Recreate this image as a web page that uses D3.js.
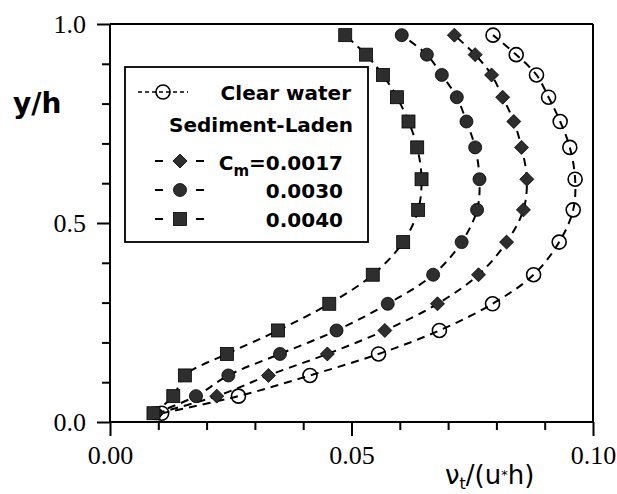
<!DOCTYPE html>
<html>
<head>
<meta charset="utf-8">
<script src="https://cdn.jsdelivr.net/npm/d3@7"></script>
<style>
  body { margin: 0; background: #fff; }
  svg { display: block; }
  .num { font-family: "Liberation Serif", "DejaVu Serif", serif; font-size: 26px; }
</style>
</head>
<body>
<svg id="chart" width="617" height="494"></svg>
<script>
// eddy viscosity profiles, clear water vs sediment-laden

var yLevels = [0.022, 0.065, 0.117, 0.171, 0.230, 0.297, 0.370, 0.452, 0.533, 0.610, 0.690, 0.755, 0.816, 0.872, 0.923, 0.972];

var clearWater = [0.0107, 0.0266, 0.0414, 0.0556, 0.0682, 0.0792, 0.0877, 0.0930, 0.0959, 0.0963, 0.0952, 0.0932, 0.0908, 0.0883, 0.0841, 0.0793];
var cm0017 = [0.0097, 0.0221, 0.0328, 0.0450, 0.0569, 0.0678, 0.0763, 0.0821, 0.0856, 0.0863, 0.0852, 0.0836, 0.0813, 0.0790, 0.0756, 0.0713];
var cm0030 = [0.0093, 0.0178, 0.0245, 0.0352, 0.0469, 0.0575, 0.0669, 0.0728, 0.0760, 0.0765, 0.0756, 0.0738, 0.0718, 0.0687, 0.0656, 0.0604];
var cm0040 = [0.0090, 0.0131, 0.0155, 0.0242, 0.0348, 0.0454, 0.0544, 0.0607, 0.0638, 0.0645, 0.0636, 0.0618, 0.0594, 0.0565, 0.0530, 0.0487];

var xMajor = [0, 0.05, 0.10];
var xMinor = [0.01, 0.02, 0.03, 0.04, 0.06, 0.07, 0.08, 0.09];
var yMajor = [0, 0.5, 1.0];
var yMinor = [0.1, 0.2, 0.3, 0.4, 0.6, 0.7, 0.8, 0.9];

var svg = d3.select("#chart");

var x = d3.scaleLinear().domain([0, 0.1]).range([110, 593]);
var y = d3.scaleLinear().domain([0, 1]).range([422, 24]);

var sans = "DejaVu Sans, sans-serif";

// minor ticks
svg.append("g")
  .attr("transform", "translate(0," + y(0) + ")")
  .call(d3.axisBottom(x).tickValues(xMinor).tickSize(8).tickFormat(""))
  .call(g => g.select(".domain").remove());
svg.append("g")
  .attr("transform", "translate(" + x(0) + ",0)")
  .call(d3.axisLeft(y).tickValues(yMinor).tickSize(8).tickFormat(""))
  .call(g => g.select(".domain").remove());

// major ticks + labels
var xAxis = svg.append("g")
  .attr("transform", "translate(0," + y(0) + ")")
  .call(d3.axisBottom(x).tickValues(xMajor).tickSize(14).tickPadding(10).tickFormat(d3.format(".2f")));
xAxis.select(".domain").remove();
xAxis.attr("font-family", null).attr("font-size", null);
xAxis.selectAll("text").attr("class", "num").attr("fill", "#000");

var yAxis = svg.append("g")
  .attr("transform", "translate(" + x(0) + ",0)")
  .call(d3.axisLeft(y).tickValues(yMajor).tickSize(13).tickPadding(11).tickFormat(d3.format(".1f")));
yAxis.select(".domain").remove();
yAxis.attr("font-family", null).attr("font-size", null);
yAxis.selectAll("text").attr("class", "num").attr("fill", "#000");

svg.selectAll(".tick line").attr("stroke", "#000").attr("stroke-width", 2);

// frame
var frame = svg.append("g").attr("stroke", "#000").attr("stroke-width", 2).attr("fill", "none");
frame.append("line").attr("x1", x(0)).attr("x2", x(0)).attr("y1", y(1)).attr("y2", y(0));
frame.append("line").attr("x1", x(0)).attr("x2", x(0.1)).attr("y1", y(0)).attr("y2", y(0));
frame.append("line").attr("x1", x(0)).attr("x2", x(0.1)).attr("y1", y(1)).attr("y2", y(1));
frame.append("line").attr("x1", x(0.1)).attr("x2", x(0.1)).attr("y1", y(1)).attr("y2", y(0));

// series
var series = [
  {name: "clear", values: clearWater, shape: "openCircle"},
  {name: "c17", values: cm0017, shape: "diamond"},
  {name: "c30", values: cm0030, shape: "circle"},
  {name: "c40", values: cm0040, shape: "square"}
];

var line = d3.line()
  .x(d => x(d[0]))
  .y(d => y(d[1]))
  .curve(d3.curveCatmullRom.alpha(0.5));

var markFill = "#2e2e2e";

function drawMark(g, shape, cx, cy) {
  if (shape == "openCircle") {
    g.append("circle").attr("cx", cx).attr("cy", cy).attr("r", 7)
      .attr("fill", "none").attr("stroke", "#000").attr("stroke-width", 1.6);
  } else if (shape == "circle") {
    g.append("circle").attr("cx", cx).attr("cy", cy).attr("r", 6.5)
      .attr("fill", markFill).attr("stroke", "#000").attr("stroke-width", 0.8);
  } else if (shape == "diamond") {
    g.append("path")
      .attr("d", "M" + cx + "," + (cy - 7) + "L" + (cx + 7) + "," + cy + "L" + cx + "," + (cy + 7) + "L" + (cx - 7) + "," + cy + "Z")
      .attr("fill", markFill).attr("stroke", "#000").attr("stroke-width", 0.8);
  } else {
    g.append("rect").attr("x", cx - 6.5).attr("y", cy - 6.5).attr("width", 13).attr("height", 13)
      .attr("fill", markFill).attr("stroke", "#000").attr("stroke-width", 0.8);
  }
}

series.forEach(function (s) {
  var pts = s.values.map((v, i) => [v, yLevels[i]]);
  svg.append("path")
    .datum(pts)
    .attr("d", line)
    .attr("fill", "none")
    .attr("stroke", "#000")
    .attr("stroke-width", 2)
    .attr("stroke-dasharray", "8,6");
});

series.forEach(function (s) {
  var g = svg.append("g");
  s.values.forEach(function (v, i) {
    drawMark(g, s.shape, x(v), y(yLevels[i]));
  });
});

// legend
var leg = svg.append("g");
leg.append("rect").attr("x", 125).attr("y", 67).attr("width", 243).attr("height", 175)
  .attr("fill", "#fff").attr("stroke", "#000").attr("stroke-width", 1.8);

leg.append("line").attr("x1", 138).attr("x2", 188).attr("y1", 92).attr("y2", 92)
  .attr("stroke", "#000").attr("stroke-width", 1.5).attr("stroke-dasharray", "4,3");
drawMark(leg, "openCircle", 163, 92);

var legRows = [
  {shape: "diamond", y: 161},
  {shape: "circle", y: 190},
  {shape: "square", y: 219}
];
legRows.forEach(function (r) {
  leg.append("line").attr("x1", 155).attr("x2", 163).attr("y1", r.y).attr("y2", r.y)
    .attr("stroke", "#000").attr("stroke-width", 2);
  leg.append("line").attr("x1", 196).attr("x2", 204).attr("y1", r.y).attr("y2", r.y)
    .attr("stroke", "#000").attr("stroke-width", 2);
  drawMark(leg, r.shape, 180, r.y);
});

function legText(tx, ty, str) {
  return leg.append("text").attr("x", tx).attr("y", ty)
    .attr("text-anchor", "end")
    .attr("font-family", sans).attr("font-weight", "bold").attr("font-size", 20)
    .attr("fill", "#000").text(str);
}
legText(351, 100, "Clear water");
legText(353, 132, "Sediment-Laden");

var cm = leg.append("text").attr("x", 343).attr("y", 170).attr("text-anchor", "end")
  .attr("font-family", sans).attr("font-weight", "bold").attr("font-size", 20).attr("fill", "#000");
cm.append("tspan").text("C");
cm.append("tspan").attr("font-size", 15).attr("dy", 6).text("m");
cm.append("tspan").attr("dy", -6).text("=0.0017");

legText(343, 198, "0.0030");
legText(343, 227, "0.0040");

// axis titles
svg.append("text").attr("x", 13).attr("y", 113)
  .attr("font-family", sans).attr("font-weight", "bold").attr("font-size", 28)
  .attr("fill", "#000").text("y/h");

var xt = svg.append("text").attr("x", 445).attr("y", 484)
  .attr("font-family", sans).attr("font-size", 26).attr("fill", "#000");
xt.append("tspan").text("ν");
xt.append("tspan").attr("font-size", 16).attr("dy", 5).text("t");
xt.append("tspan").attr("dy", -5).text("/(u");
xt.append("tspan").attr("font-size", 13).attr("dy", -5).text("*");
xt.append("tspan").attr("dy", 5).text("h)");
</script>
</body>
</html>
